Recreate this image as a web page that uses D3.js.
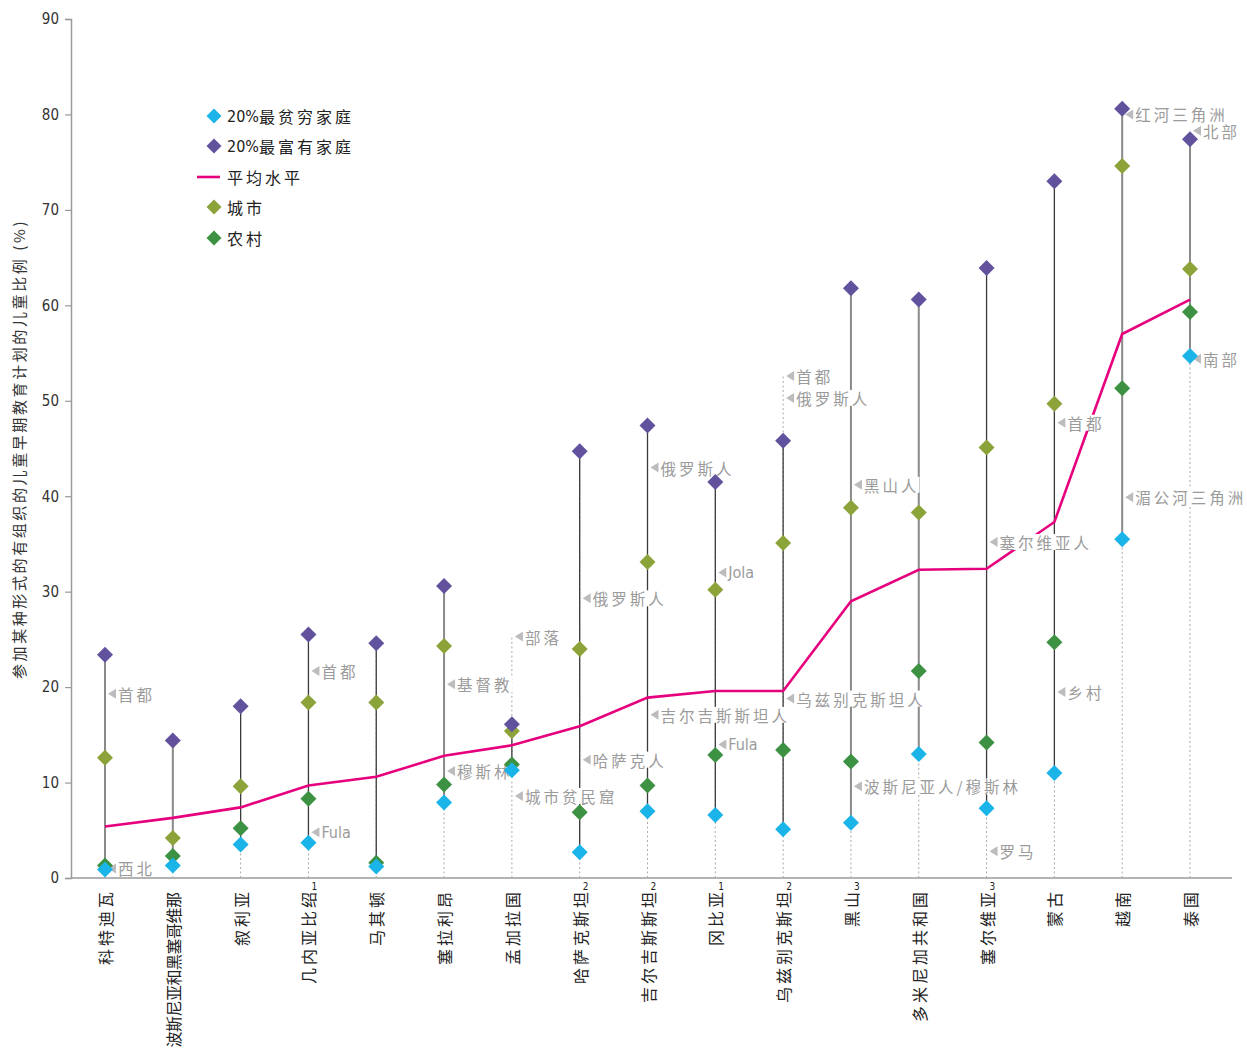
<!DOCTYPE html>
<html>
<head>
<meta charset="utf-8">
<script src="https://cdn.jsdelivr.net/npm/d3@7"></script>
<style>
  body { margin: 0; background: #fff; }
  svg { display: block; }
  .cjk { font-family: "Noto Sans CJK SC", sans-serif; }
  .narrow { font-family: "Liberation Sans Narrow", "DejaVu Sans Condensed", "Roboto", sans-serif; }
</style>
</head>
<body>
<svg id="chart" width="1247" height="1048"></svg>
<script>
// countries, sorted by the national average
const countries = ['科特迪瓦', '波斯尼亚和黑塞哥维那', '叙利亚', '几内亚比绍', '马其顿', '塞拉利昂', '孟加拉国',
  '哈萨克斯坦', '吉尔吉斯斯坦', '冈比亚', '乌兹别克斯坦', '黑山', '多米尼加共和国', '塞尔维亚', '蒙古', '越南', '泰国'];
const footnotes = ['', '', '', '1', '', '', '', '2', '2', '1', '2', '3', '', '3', '', '', ''];

// % of children attending early childhood education
const poorest = [0.9, 1.3, 3.5, 3.7, 1.2, 7.9, 11.3, 2.7, 7.0, 6.6, 5.1, 5.8, 13.0, 7.3, 11.0, 35.5, 54.7];
const richest = [23.4, 14.4, 18.0, 25.5, 24.6, 30.6, 16.1, 44.7, 47.4, 41.5, 45.8, 61.8, 60.6, 63.9, 73.0, 80.6, 77.4];
const average = [5.4, 6.3, 7.4, 9.7, 10.6, 12.8, 13.9, 15.9, 18.9, 19.6, 19.6, 29.0, 32.3, 32.4, 37.3, 57.0, 60.6];
const urban = [12.6, 4.2, 9.6, 18.4, 18.4, 24.3, 15.4, 24.0, 33.1, 30.2, 35.1, 38.8, 38.3, 45.1, 49.7, 74.6, 63.8];
const rural = [1.3, 2.3, 5.2, 8.3, 1.6, 9.8, 11.9, 6.9, 9.7, 12.9, 13.4, 12.2, 21.7, 14.2, 24.7, 51.3, 59.3];

// subgroup notes
const noteCountry = ['科特迪瓦', '科特迪瓦', '几内亚比绍', '几内亚比绍', '塞拉利昂', '塞拉利昂', '孟加拉国', '孟加拉国',
  '哈萨克斯坦', '哈萨克斯坦', '吉尔吉斯斯坦', '吉尔吉斯斯坦', '冈比亚', '冈比亚', '乌兹别克斯坦', '乌兹别克斯坦', '乌兹别克斯坦',
  '黑山', '黑山', '塞尔维亚', '塞尔维亚', '蒙古', '蒙古', '越南', '越南', '泰国', '泰国'];
const noteValue = [19.3, 1.0, 21.7, 4.8, 20.3, 11.2, 25.3, 8.6,
  29.3, 12.4, 43.0, 17.1, 32.0, 14.0, 52.6, 50.3, 18.8,
  41.2, 9.6, 35.2, 2.8, 47.7, 19.5, 80.0, 39.9, 78.3, 54.4];
const noteText = ['首都', '西北', '首都', 'Fula', '基督教', '穆斯林', '部落', '城市贫民窟',
  '俄罗斯人', '哈萨克人', '俄罗斯人', '吉尔吉斯斯坦人', 'Jola', 'Fula', '首都', '俄罗斯人', '乌兹别克斯坦人',
  '黑山人', '波斯尼亚人/穆斯林', '塞尔维亚人', '罗马', '首都', '乡村', '红河三角洲', '湄公河三角洲', '北部', '南部'];

const yTicks = [0, 10, 20, 30, 40, 50, 60, 70, 80, 90];
const legendLabels = ['20%最贫穷家庭', '20%最富有家庭', '平均水平', '城市', '农村'];

const colors = { poorest: '#1ab4e8', richest: '#62529e', average: '#e6007e', urban: '#8ca33a', rural: '#3c9142' };
// stems drawn in the lighter grey
const lightStems = new Set(['科特迪瓦', '波斯尼亚和黑塞哥维那', '塞拉利昂', '黑山', '多米尼加共和国', '越南', '泰国']);

const svg = d3.select('#chart');
const x = d3.scalePoint().domain(countries).range([105, 1190]);
const y = d3.scaleLinear().domain([0, 90]).range([878, 19]);

// diamond path centred on 0,0
const diamond = r => `M0,${-r}L${r},0L0,${r}L${-r},0Z`;

// axes
const yAxis = svg.append('g').attr('transform', 'translate(71,0)')
  .call(d3.axisLeft(y).tickValues(yTicks).tickSize(6).tickPadding(6));
yAxis.select('.domain').attr('stroke', '#9a9a9a').attr('stroke-width', 1.5);
yAxis.selectAll('.tick line').attr('stroke', '#9a9a9a').attr('stroke-width', 1.2);
yAxis.selectAll('.tick text').attr('class', 'narrow').attr('font-size', 15).attr('fill', '#333');

svg.append('line').attr('x1', 71).attr('x2', 1232).attr('y1', y(0)).attr('y2', y(0))
  .attr('stroke', '#9a9a9a').attr('stroke-width', 1.5);

svg.append('text').attr('class', 'cjk')
  .attr('transform', 'translate(18,' + 449 + ') rotate(-90)')
  .attr('text-anchor', 'middle').attr('dominant-baseline', 'central')
  .attr('font-size', 15).attr('letter-spacing', 2.6).attr('fill', '#333')
  .text('参加某种形式的有组织的儿童早期教育计划的儿童比例 (%)');

// dotted guide from 0 up to the highest value of each country
const stems = svg.append('g');
countries.forEach((c, i) => {
  const notes = noteValue.filter((v, j) => noteCountry[j] === c);
  const top = d3.max([richest[i], ...notes]);
  stems.append('line').attr('x1', x(c)).attr('x2', x(c)).attr('y1', y(0)).attr('y2', y(top))
    .attr('stroke', '#aaa').attr('stroke-width', 1).attr('stroke-dasharray', '2,2.5');
});
countries.forEach((c, i) => {
  const light = lightStems.has(c);
  stems.append('line').attr('x1', x(c)).attr('x2', x(c)).attr('y1', y(poorest[i])).attr('y2', y(richest[i]))
    .attr('stroke', light ? '#8a8a8a' : '#3a3a3a').attr('stroke-width', light ? 2 : 1.3);
});

// average line
const line = d3.line().x((d, i) => x(countries[i])).y(d => y(d));
svg.append('path').datum(average).attr('d', line)
  .attr('fill', 'none').attr('stroke', colors.average).attr('stroke-width', 2.6);

// subgroup notes with a white box that masks what lies behind
const notesG = svg.append('g');
noteText.forEach((t, j) => {
  const cx = x(noteCountry[j]);
  const cy = y(noteValue[j]);
  const g = notesG.append('g');
  const rect = g.append('rect').attr('fill', '#fff');
  const latin = /^[A-Za-z]/.test(t);
  const txt = g.append('text').attr('class', latin ? 'narrow' : 'cjk')
    .attr('x', cx + 13).attr('y', cy).attr('dominant-baseline', 'central')
    .attr('font-size', latin ? 16 : 15.5).attr('letter-spacing', latin ? 0 : 3)
    .attr('fill', '#9b9b9b').text(t);
  const w = txt.node().getComputedTextLength();
  rect.attr('x', cx + 3).attr('y', cy - 8).attr('width', w + 10).attr('height', 16);
  g.append('path').attr('d', `M${cx + 3},${cy}L${cx + 11},${cy - 5}L${cx + 11},${cy + 5}Z`).attr('fill', '#bcbcbe');
});

// diamonds
const series = [['urban', urban], ['rural', rural], ['richest', richest], ['poorest', poorest]];
series.forEach(([key, vals]) => {
  svg.append('g').selectAll('path').data(vals).join('path')
    .attr('d', diamond(8))
    .attr('transform', (d, i) => `translate(${x(countries[i])},${y(d)})`)
    .attr('fill', colors[key]);
});

// category labels, rotated
const xl = svg.append('g');
countries.forEach((c, i) => {
  const n = c.length;
  const spacing = Math.max(-1, Math.min(3, 155 / n - 16));
  xl.append('text').attr('class', 'cjk')
    .attr('transform', `translate(${x(c)},${892 - spacing}) rotate(-90)`)
    .attr('text-anchor', 'end').attr('dominant-baseline', 'central')
    .attr('font-size', 16).attr('letter-spacing', spacing).attr('fill', '#222').text(c);
  if (footnotes[i]) {
    xl.append('text').attr('class', 'narrow').attr('x', x(c) + 3).attr('y', 890)
      .attr('font-size', 10).attr('fill', '#222').text(footnotes[i]);
  }
});

// legend
const legend = svg.append('g');
const legendKeys = ['poorest', 'richest', 'average', 'urban', 'rural'];
const legendY = [116, 146, 177, 207, 238];
legendKeys.forEach((k, i) => {
  const ly = legendY[i];
  if (k === 'average') {
    legend.append('line').attr('x1', 197).attr('x2', 220).attr('y1', ly).attr('y2', ly)
      .attr('stroke', colors.average).attr('stroke-width', 2.6);
  } else {
    legend.append('path').attr('d', diamond(7.5)).attr('transform', `translate(214,${ly})`).attr('fill', colors[k]);
  }
  const t = legend.append('text').attr('x', 227).attr('y', ly).attr('dominant-baseline', 'central')
    .attr('font-size', 16).attr('fill', '#222');
  const m = legendLabels[i].match(/^(\d+%)(.*)$/);
  if (m) {
    t.append('tspan').attr('class', 'narrow').text(m[1]);
    t.append('tspan').attr('class', 'cjk').attr('letter-spacing', 3).text(m[2]);
  } else {
    t.append('tspan').attr('class', 'cjk').attr('letter-spacing', 3).text(legendLabels[i]);
  }
});
</script>
</body>
</html>
